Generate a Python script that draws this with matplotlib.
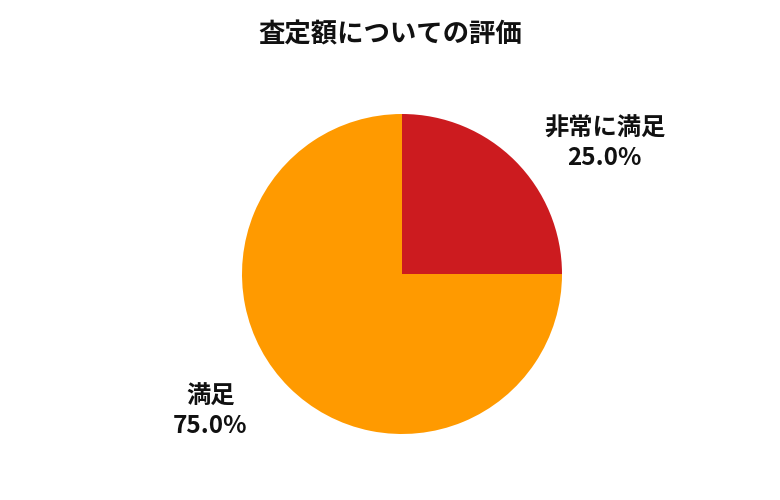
import matplotlib.pyplot as plt
import numpy as np

plt.rcParams['font.family'] = ['Noto Sans CJK JP', 'DejaVu Sans']

# data
categories = ['非常に満足', '満足']
values = [25.0, 75.0]
colors = ['#CC1B1F', '#FF9A00']
title = '査定額についての評価'

fig = plt.figure(figsize=(7.8, 5), dpi=100)
ax = fig.add_axes([242 / 780, (500 - 274 - 160) / 500, 320 / 780, 320 / 500])

wedges, _ = ax.pie(values, colors=colors, startangle=90, counterclock=False,
                   radius=1.0, wedgeprops={'linewidth': 0})
ax.set_xlim(-1, 1)
ax.set_ylim(-1, 1)
ax.set_aspect('equal')
ax.axis('off')

# labels outside, pulled a bit toward the horizontal
for w, cat, v in zip(wedges, categories, values):
    mid = np.deg2rad((w.theta1 + w.theta2) / 2)
    x, y = np.cos(mid), np.sin(mid)
    ang = np.arctan2(y * 0.68, x)
    r = 1.49
    ax.text(r * np.cos(ang) + 0.035, r * np.sin(ang) - 0.02, f'{cat}\n{v:.1f}%',
            ha='center', va='center', fontsize=17.5, fontweight='bold',
            linespacing=1.25, clip_on=False, color='#111111')

fig.text(390 / 780, 1 - 35 / 500, title, ha='center', va='center',
         fontsize=19, fontweight='bold', color='#111111')

fig.savefig('out.png', dpi=100)
